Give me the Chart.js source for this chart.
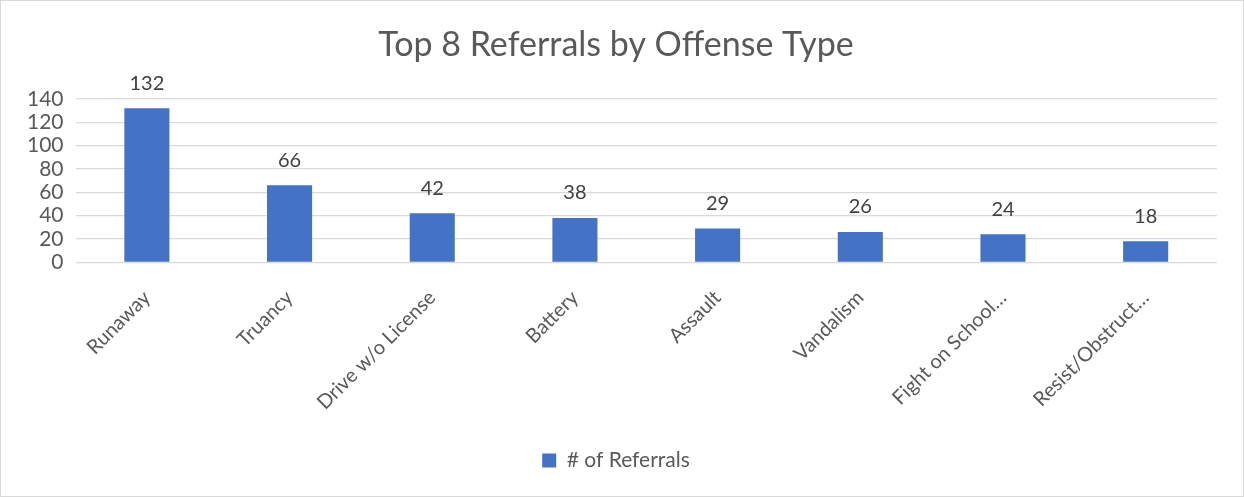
<!DOCTYPE html>
<html>
<head>
<meta charset="utf-8">
<script src="https://cdn.jsdelivr.net/npm/chart.js@4/dist/chart.umd.min.js"></script>
<style>
  html, body { margin: 0; padding: 0; background: #fff; }
  #wrap { width: 1242px; height: 495px; border: 1px solid #d9d9d9; position: relative; }
</style>
</head>
<body>
<div id="wrap"><canvas id="chart" width="1242" height="495"></canvas></div>
<script>
// --- Data ---
const categories = ['Runaway', 'Truancy', 'Drive w/o License', 'Battery', 'Assault', 'Vandalism', 'Fight on School…', 'Resist/Obstruct…'];
const referrals = [132, 66, 42, 38, 29, 26, 24, 18];
const yTicks = [0, 20, 40, 60, 80, 100, 120, 140];

const FONT = 'Lato, "Open Sans", sans-serif';
const TEXT = '#595959';

// value labels above each bar
const barLabels = {
  id: 'barLabels',
  afterDatasetsDraw(chart) {
    const ctx = chart.ctx;
    const meta = chart.getDatasetMeta(0);
    ctx.save();
    ctx.font = '20px ' + FONT;
    ctx.fillStyle = '#404040';
    ctx.textAlign = 'center';
    ctx.textBaseline = 'bottom';
    meta.data.forEach((bar, i) => {
      ctx.fillText(referrals[i], bar.x, bar.y - 15);
    });
    ctx.restore();
  }
};

new Chart(document.getElementById('chart'), {
  type: 'bar',
  data: {
    labels: categories,
    datasets: [{
      label: '# of Referrals',
      data: referrals,
      backgroundColor: '#4472C4',
      barPercentage: 1,
      categoryPercentage: 0.316
    }]
  },
  options: {
    responsive: false,
    animation: false,
    layout: { padding: { left: 14, right: 26, top: 0, bottom: 15 } },
    plugins: {
      title: {
        display: true,
        text: 'Top 8 Referrals by Offense Type',
        color: TEXT,
        font: { family: FONT, size: 34, weight: 'normal' },
        padding: { top: 24, bottom: 33 }
      },
      legend: {
        position: 'bottom',
        labels: {
          color: TEXT,
          font: { family: FONT, size: 21 },
          boxWidth: 14,
          boxHeight: 14,
          padding: 20
        }
      },
      tooltip: { enabled: false }
    },
    scales: {
      y: {
        min: 0,
        max: 140,
        afterBuildTicks: axis => { axis.ticks = yTicks.map(v => ({ value: v })); },
        border: { display: false },
        grid: { color: '#d9d9d9', lineWidth: 1.3, drawTicks: false },
        ticks: { color: TEXT, font: { family: FONT, size: 21 }, padding: 12, autoSkip: false }
      },
      x: {
        border: { display: false },
        grid: { display: false },
        ticks: {
          color: TEXT,
          font: { family: FONT, size: 20 },
          minRotation: 45,
          maxRotation: 45,
          autoSkip: false,
          padding: 15.5
        }
      }
    }
  },
  plugins: [barLabels]
});
</script>
</body>
</html>
